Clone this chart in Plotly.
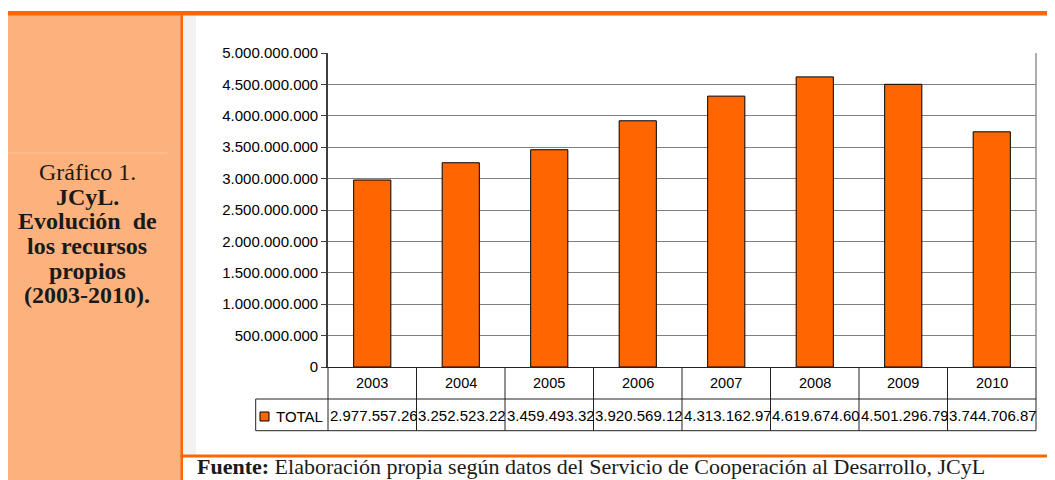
import plotly.graph_objects as go

# ---------------- data ----------------
years = ["2003", "2004", "2005", "2006", "2007", "2008", "2009", "2010"]
total = [2977557260, 3252523220, 3459493320, 3920569120,
         4313162970, 4619674600, 4501296790, 3744706870]
series_name = "TOTAL"
title_lines = ["Gráfico 1.", "<b>JCyL.</b>", "<b>Evolución  de</b>",
               "<b>los recursos</b>", "<b>propios</b>", "<b>(2003-2010).</b>"]
source_text = ("<b>Fuente:</b> Elaboración propia según datos del Servicio de "
               "Cooperación al Desarrollo, JCyL")

# ---------------- layout helpers ----------------
# the page body has an 8px margin, so the figure is 8px smaller and every
# reference pixel coordinate is shifted by OFF
OFF = 8
W, H = 1055 - OFF, 480 - OFF
L, R, T, B = 328 - OFF, 19, 53 - OFF, 113
PW, PH = W - L - R, H - T - B
ORANGE = "#FF6600"
PEACH = "#FDB27E"


def X(px):
    return (px - OFF - L) / PW


def Y(py):
    return (H - B - (py - OFF)) / PH


fig = go.Figure()
fig.add_trace(go.Bar(
    x=years, y=total, name=series_name, width=0.42,
    marker=dict(color=ORANGE, line=dict(color="black", width=1)),
    hoverinfo="x+y", showlegend=False,
))

shapes = []
# background panels
shapes.append(dict(type="rect", xref="paper", yref="paper", x0=X(0), x1=X(181),
                   y0=Y(490), y1=Y(15), fillcolor=PEACH, line_width=0, layer="below"))
shapes.append(dict(type="rect", xref="paper", yref="paper", x0=X(183), x1=X(196),
                   y0=Y(455), y1=Y(15), fillcolor="#F2F2F2", line_width=0, layer="below"))
shapes.append(dict(type="line", xref="paper", yref="paper", x0=X(6), x1=X(167),
                   y0=Y(153), y1=Y(153), line=dict(color="#FCC49C", width=1), layer="below"))
# orange rules
shapes.append(dict(type="rect", xref="paper", yref="paper", x0=X(0), x1=X(1060),
                   y0=Y(15.5), y1=Y(11), fillcolor=ORANGE, line_width=0))
shapes.append(dict(type="rect", xref="paper", yref="paper", x0=X(180.5), x1=X(183),
                   y0=Y(490), y1=Y(15), fillcolor=ORANGE, line_width=0))
shapes.append(dict(type="rect", xref="paper", yref="paper", x0=X(180.5), x1=X(1060),
                   y0=Y(457.5), y1=Y(454.5), fillcolor=ORANGE, line_width=0))
# plot right border
shapes.append(dict(type="line", xref="paper", yref="paper", x0=1, x1=1, y0=0, y1=1,
                   line=dict(color="#808080", width=1.3)))

# data table
TL = "#222222"
row1_bot = Y(399)
row2_bot = Y(430.7)
n = len(years)
for i in range(n + 1):
    shapes.append(dict(type="line", xref="paper", yref="paper", x0=i / n, x1=i / n,
                       y0=0, y1=row2_bot, line=dict(color=TL, width=1)))
shapes.append(dict(type="line", xref="paper", yref="paper", x0=X(255.7), x1=1,
                   y0=row1_bot, y1=row1_bot, line=dict(color=TL, width=1)))
shapes.append(dict(type="line", xref="paper", yref="paper", x0=X(255.7), x1=1,
                   y0=row2_bot, y1=row2_bot, line=dict(color=TL, width=1)))
shapes.append(dict(type="line", xref="paper", yref="paper", x0=X(255.7), x1=X(255.7),
                   y0=row1_bot, y1=row2_bot, line=dict(color=TL, width=1)))
# legend key
shapes.append(dict(type="rect", xref="paper", yref="paper", x0=X(260), x1=X(269),
                   y0=Y(421), y1=Y(412), fillcolor=ORANGE, line=dict(color="black", width=1)))

annotations = []
sans = "Liberation Sans, Arial, sans-serif"
serif = "Liberation Serif, Times New Roman, serif"
for i, (yr, v) in enumerate(zip(years, total)):
    annotations.append(dict(xref="x", yref="paper", x=i, y=Y(383), text=yr,
                            showarrow=False, font=dict(family=sans, size=14.5, color="black"),
                            xanchor="center", yanchor="middle"))
    label = f"{v:,}".replace(",", ".")[:12]
    annotations.append(dict(xref="x", yref="paper", x=i, y=Y(415.5), text=label,
                            showarrow=False, font=dict(family=sans, size=15, color="black"),
                            xanchor="center", yanchor="middle", xshift=1.5))
annotations.append(dict(xref="paper", yref="paper", x=X(274), y=Y(416), text=series_name,
                        showarrow=False, font=dict(family=sans, size=15, color="black"),
                        xanchor="left", yanchor="middle"))

line_y = [172, 197, 221.5, 246, 270.5, 295]
for t, yy in zip(title_lines, line_y):
    annotations.append(dict(xref="paper", yref="paper", x=X(87), y=Y(yy), text=t,
                            showarrow=False, font=dict(family=serif, size=24, color="#1a1a1a"),
                            xanchor="center", yanchor="middle"))

annotations.append(dict(xref="paper", yref="paper", x=X(196), y=Y(479.5), text=source_text,
                        showarrow=False, font=dict(family=serif, size=22, color="#1a1a1a"),
                        xanchor="left", yanchor="bottom", borderpad=0))

fig.update_layout(
    width=W, height=H,
    margin=dict(l=L, r=R, t=T, b=B, pad=0),
    paper_bgcolor="white", plot_bgcolor="white",
    separators=",.",
    shapes=shapes, annotations=annotations,
    xaxis=dict(type="category", range=[-0.5, n - 0.5], showticklabels=False,
               showgrid=False, zeroline=False, showline=True, linecolor="#222222",
               linewidth=1.3, ticks=""),
    yaxis=dict(range=[0, 5e9], dtick=5e8, tick0=0, tickformat=",d",
               showgrid=True, gridcolor="#808080", gridwidth=1.3, zeroline=False,
               showline=True, linecolor="#404040", linewidth=1.6,
               ticks="outside", ticklen=5, tickcolor="#404040", tickwidth=1.3,
               tickfont=dict(family=sans, size=15, color="black")),
    font=dict(family=sans),
)

fig.write_html("out.html")
